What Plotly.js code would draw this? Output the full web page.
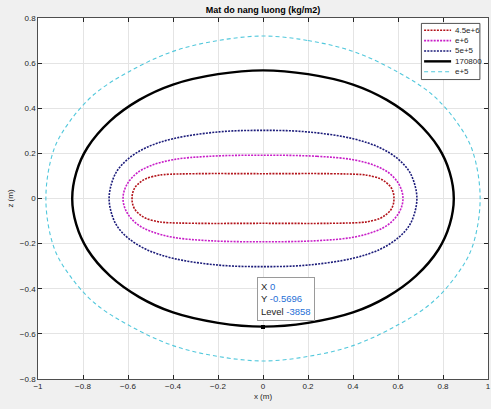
<!DOCTYPE html>
<html>
<head>
<meta charset="utf-8">
<script src="https://cdn.plot.ly/plotly-3.0.1.min.js"></script>
<style>html,body{margin:0;padding:0;background:#f0f0f0;}#chart{width:491px;height:409px;}</style>
</head>
<body>
<div id="chart"></div>
<script>
// Contour levels (legend names)
const seriesNames = ["4.5e+6", "e+6", "5e+5", "170800", "e+5"];
// First-quadrant points (x in m, z in m); curves are symmetric in x and z
const redX  = [0, 0.30, 0.44, 0.47, 0.52, 0.547, 0.569, 0.580, 0.582];
const redZ  = [0.110, 0.110, 0.106, 0.102, 0.088, 0.071, 0.049, 0.022, 0];
const magX  = [0, 0.24, 0.40, 0.50, 0.56, 0.60, 0.618, 0.622];
const magZ  = [0.192, 0.187, 0.172, 0.145, 0.113, 0.070, 0.030, 0];
const navX  = [0, 0.20, 0.40, 0.52, 0.60, 0.65, 0.675, 0.684];
const navZ  = [0.302, 0.295, 0.265, 0.225, 0.175, 0.120, 0.060, 0];
const blkX  = [0, 0.20, 0.40, 0.55, 0.68, 0.78, 0.83, 0.848];
const blkZ  = [0.568, 0.551, 0.505, 0.437, 0.343, 0.226, 0.115, 0];
const cyaX  = [0, 0.20, 0.40, 0.60, 0.75, 0.86, 0.93, 0.965];
const cyaZ  = [0.720, 0.700, 0.652, 0.560, 0.462, 0.340, 0.215, 0];
// Data tip
const tipX = [0];
const tipY = [-0.5696];
const tipLevel = -3858;

function closed(xq, zq) {
  const X = [], Z = [];
  for (let i = 0; i < xq.length; i++) { X.push(xq[i]); Z.push(zq[i]); }
  for (let i = xq.length - 2; i >= 0; i--) { X.push(xq[i]); Z.push(-zq[i]); }
  for (let i = 1; i < xq.length; i++) { X.push(-xq[i]); Z.push(-zq[i]); }
  for (let i = xq.length - 2; i >= 0; i--) { X.push(-xq[i]); Z.push(zq[i]); }
  return [X, Z];
}

const styles = [
  {color: '#b3141b', width: 1.6, dash: '2px,1.2px'},
  {color: '#c81ec8', width: 1.6, dash: '2px,1.2px'},
  {color: '#1c1c7a', width: 1.6, dash: '2px,1.2px'},
  {color: '#000000', width: 2.4, dash: 'solid'},
  {color: '#52c8dc', width: 1.1, dash: '4px,3px'}
];
const curves = [[redX, redZ], [magX, magZ], [navX, navZ], [blkX, blkZ], [cyaX, cyaZ]];

const traces = curves.map((c, i) => {
  const [X, Z] = closed(c[0], c[1]);
  return {x: X, y: Z, type: 'scatter', mode: 'lines', name: seriesNames[i],
          line: {color: styles[i].color, width: styles[i].width, dash: styles[i].dash, shape: 'spline', smoothing: 1},
          hoverinfo: 'skip', showlegend: false};
});
traces.push({x: tipX, y: tipY, type: 'scatter', mode: 'markers',
             marker: {symbol: 'square', size: 4, color: '#000'}, showlegend: false, hoverinfo: 'skip'});

// Custom MATLAB-like legend (paper coords)
const lgLeft = 0.852, lgRight = 0.982, lgTop = 0.985, rowH = 0.0287;
const shapes = [{type: 'rect', xref: 'paper', yref: 'paper', x0: lgLeft, x1: lgRight,
                 y0: lgTop - rowH * seriesNames.length - 0.012, y1: lgTop,
                 line: {color: '#262626', width: 0.8}, fillcolor: '#ffffff', layer: 'above'}];
const annotations = [];
seriesNames.forEach((n, i) => {
  const yy = lgTop - 0.019 - i * rowH;
  shapes.push({type: 'line', xref: 'paper', yref: 'paper', x0: lgLeft + 0.006, x1: lgLeft + 0.066, y0: yy, y1: yy,
               line: {color: styles[i].color, width: styles[i].width, dash: styles[i].dash}, layer: 'above'});
  annotations.push({xref: 'paper', yref: 'paper', x: lgLeft + 0.07, y: yy, xanchor: 'left', yanchor: 'middle',
                    text: n, showarrow: false, font: {family: 'Liberation Sans, Arial', size: 8, color: '#262626'}});
});
annotations.push({xref: 'x', yref: 'y', x: tipX[0], y: tipY[0], xanchor: 'left', yanchor: 'bottom',
  xshift: -6, yshift: 6, showarrow: false, align: 'left',
  text: 'X <span style="color:#1f6fd6">' + tipX[0] + '</span><br>Y <span style="color:#1f6fd6">' + tipY[0] +
        '</span><br>Level <span style="color:#1f6fd6">' + tipLevel + '</span>',
  bgcolor: '#ffffff', bordercolor: '#9a9a9a', borderwidth: 1, borderpad: 3,
  font: {family: 'Liberation Sans, Arial', size: 9.5, color: '#262626'}});

const axisCommon = {
  showgrid: true, gridcolor: '#e4e4e4', gridwidth: 1, zeroline: false,
  showline: true, linecolor: '#262626', linewidth: 0.8, mirror: 'ticks',
  ticks: 'inside', ticklen: 4, tickcolor: '#262626', dtick: 0.2,
  tickfont: {family: 'Liberation Sans, Arial', size: 8, color: '#262626'}
};

const layout = {
  width: 491, height: 409,
  margin: {l: 38, r: 3, t: 18, b: 30},
  paper_bgcolor: '#f0f0f0', plot_bgcolor: '#ffffff',
  title: {text: '<b>Mat do nang luong (kg/m2)</b>', font: {family: 'Liberation Sans, Arial', size: 9, color: '#000'},
          x: 0.5, xref: 'paper', y: 0.977, yanchor: 'middle'},
  xaxis: Object.assign({}, axisCommon, {range: [-1, 1], tick0: -1,
          title: {text: 'x (m)', font: {family: 'Liberation Sans, Arial', size: 8, color: '#262626'}, standoff: 2}}),
  yaxis: Object.assign({}, axisCommon, {range: [-0.8, 0.8], tick0: -0.8,
          title: {text: 'z (m)', font: {family: 'Liberation Sans, Arial', size: 8, color: '#262626'}, standoff: 4}}),
  shapes: shapes, annotations: annotations, showlegend: false
};

Plotly.newPlot('chart', traces, layout, {displayModeBar: false, staticPlot: true});
</script>
</body>
</html>
